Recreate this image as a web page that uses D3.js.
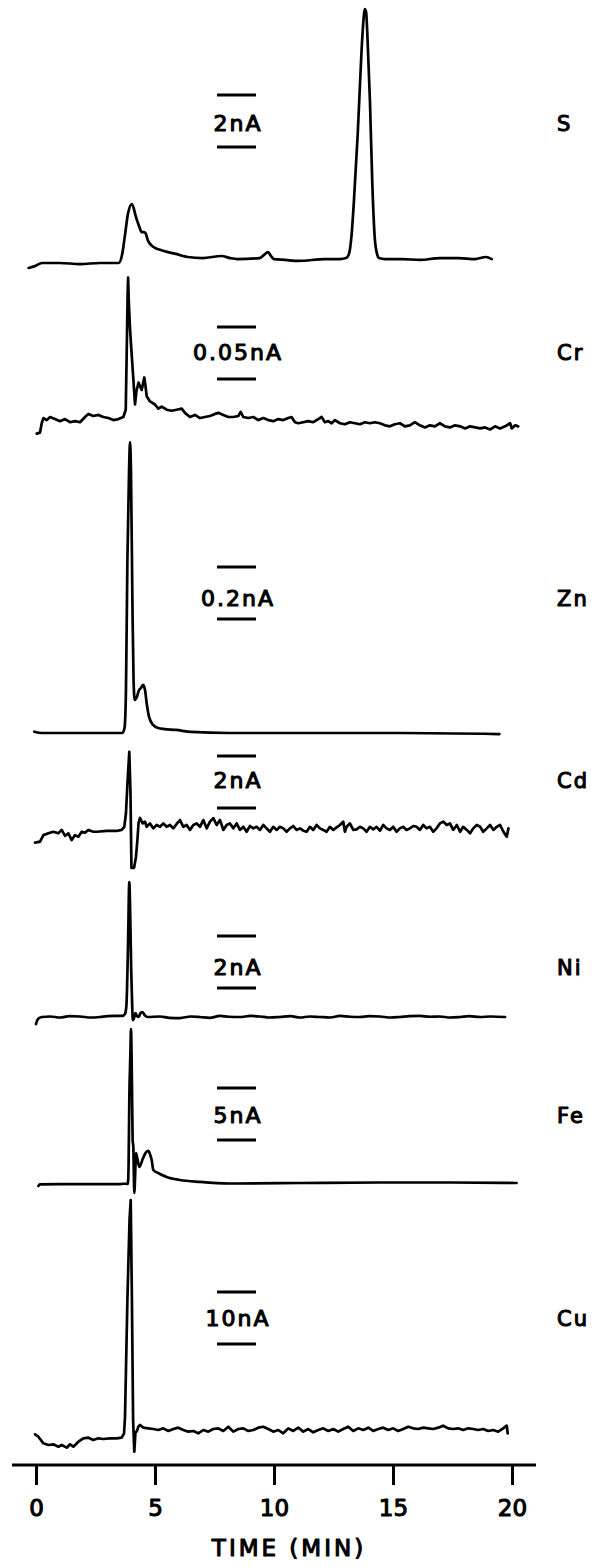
<!DOCTYPE html>
<html>
<head>
<meta charset="utf-8">
<script src="https://cdn.jsdelivr.net/npm/d3@7/dist/d3.min.js"></script>
<style>
  html, body { margin: 0; padding: 0; background: #fff; }
  svg { display: block; }
  text { font-family: "DejaVu Sans", sans-serif; fill: #000; stroke: #000; stroke-width: 1.1px; stroke-linejoin: round; }
</style>
</head>
<body>
<svg id="chart" width="600" height="1567"></svg>
<script>
// Element-selective detector traces: [time (min), current (nA) above baseline]
const timeTicks = [0, 5, 10, 15, 20];
const elements = ["S", "Cr", "Zn", "Cd", "Ni", "Fe", "Cu"];
const scaleLabels = ["2nA", "0.05nA", "0.2nA", "2nA", "2nA", "5nA", "10nA"];
const scaleValues = [2, 0.05, 0.2, 2, 2, 5, 10];

const traceS = [[-0.31,-0.19],[-0.04,-0.12],[0.25,0],[1.0,0],[1.85,-0.04],[2.69,0],[3.47,0],[3.63,0.38],[3.74,1.08],[3.87,1.92],[4.03,2.27],[4.2,1.77],[4.33,1.42],[4.44,1.19],[4.52,1.19],[4.6,1.15],[4.71,0.85],[4.84,0.69],[5.0,0.58],[5.24,0.5],[5.55,0.42],[5.88,0.35],[6.37,0.23],[7.0,0.19],[7.8,0.27],[8.15,0.19],[8.45,0.15],[9.4,0.19],[9.58,0.31],[9.75,0.42],[9.87,0.27],[10.0,0.15],[10.46,0.12],[11.03,0.08],[12.14,0.15],[12.77,0.15],[13.03,0.19],[13.15,0.35],[13.26,1.08],[13.36,2.42],[13.52,5.0],[13.68,8.19],[13.76,9.35],[13.81,9.77],[13.87,9.65],[13.92,8.85],[14.03,6.27],[14.13,3.08],[14.24,0.88],[14.33,0.35],[14.41,0.19],[14.66,0.15],[15.37,0.15],[16.13,0.12],[16.97,0.19],[17.77,0.19],[18.45,0.15],[18.9,0.23],[19.15,0.15]];

const traceCr = [[0.03,-0.016],[0.17,-0.015],[0.24,-0.006],[0.31,-0.001],[0.45,-0.003],[0.59,0.000],[0.8,-0.002],[1.01,-0.004],[1.22,-0.002],[1.43,-0.005],[1.64,-0.004],[1.85,-0.005],[2.06,0.000],[2.2,0.003],[2.41,0.001],[2.62,0.002],[2.83,0.000],[3.04,-0.001],[3.25,-0.003],[3.46,-0.002],[3.67,0.000],[3.77,0.007],[3.81,0.06],[3.85,0.118],[3.87,0.134],[3.9,0.11],[3.95,0.085],[4.0,0.067],[4.08,0.04],[4.16,0.012],[4.22,0.025],[4.31,0.033],[4.44,0.026],[4.55,0.038],[4.6,0.03],[4.65,0.02],[4.79,0.015],[5.0,0.012],[5.14,0.008],[5.28,0.01],[5.49,0.007],[5.7,0.006],[5.91,0.007],[6.12,0.008],[6.26,0.004],[6.47,0.000],[6.68,0.002],[6.89,-0.001],[7.1,0.000],[7.31,0.001],[7.52,0.003],[7.66,0.004],[7.87,0.002],[8.08,0.000],[8.29,0.000],[8.5,0.001],[8.6,0.005],[8.71,0.000],[8.92,-0.001],[9.13,0.000],[9.34,-0.003],[9.55,-0.001],[9.76,-0.003],[9.97,-0.004],[10.18,-0.002],[10.39,-0.003],[10.6,-0.001],[10.74,0.000],[10.88,-0.005],[11.02,-0.006],[11.23,-0.005],[11.44,-0.004],[11.65,-0.005],[11.86,-0.002],[12.0,0.000],[12.14,-0.005],[12.28,-0.004],[12.42,-0.006],[12.56,-0.003],[12.77,-0.006],[12.98,-0.007],[13.19,-0.005],[13.4,-0.006],[13.61,-0.007],[13.82,-0.005],[14.03,-0.006],[14.24,-0.005],[14.45,-0.006],[14.66,-0.008],[14.87,-0.009],[15.08,-0.007],[15.29,-0.006],[15.5,-0.009],[15.71,-0.008],[15.92,-0.005],[16.13,-0.008],[16.34,-0.010],[16.55,-0.008],[16.76,-0.009],[16.97,-0.006],[17.18,-0.009],[17.39,-0.010],[17.61,-0.008],[17.82,-0.009],[18.03,-0.011],[18.24,-0.009],[18.45,-0.010],[18.66,-0.011],[18.87,-0.010],[19.08,-0.012],[19.29,-0.009],[19.5,-0.011],[19.71,-0.009],[19.92,-0.006],[19.99,-0.011],[20.13,-0.008],[20.26,-0.009]];

const traceZn = [[-0.07,0.005],[0.25,0],[1.85,0],[3.63,0],[3.72,0.019],[3.78,0.165],[3.84,0.665],[3.91,1.01],[3.95,1.119],[3.99,1.01],[4.05,0.51],[4.1,0.2],[4.15,0.127],[4.22,0.135],[4.33,0.165],[4.41,0.173],[4.5,0.185],[4.58,0.165],[4.66,0.108],[4.75,0.062],[4.92,0.031],[5.13,0.019],[5.4,0.015],[5.88,0.012],[6.51,0.004],[8.13,0],[11.09,0],[15.29,0],[19.47,-0.004]];

const traceCd = [[-0.04,-0.41],[0.17,-0.37],[0.31,-0.12],[0.52,-0.05],[0.73,0.01],[0.94,-0.05],[1.08,0.08],[1.22,-0.15],[1.36,-0.05],[1.5,-0.31],[1.64,-0.12],[1.78,-0.18],[1.92,0.01],[2.06,-0.03],[2.2,0.08],[2.41,0.01],[2.55,0.01],[2.97,0.04],[3.39,0.04],[3.6,0.08],[3.71,0.2],[3.78,0.72],[3.85,2.0],[3.92,3.08],[3.97,1.5],[4.01,-1.38],[4.12,-1.38],[4.2,-0.96],[4.26,-0.31],[4.31,0.35],[4.37,0.54],[4.48,0.33],[4.58,0.4],[4.65,0.2],[4.79,0.33],[4.93,0.14],[5.07,0.27],[5.21,0.2],[5.35,0.33],[5.49,0.2],[5.63,0.27],[5.77,0.14],[5.91,0.31],[6.05,0.46],[6.19,0.2],[6.33,0.27],[6.47,0.08],[6.61,0.27],[6.75,0.33],[6.89,0.2],[7.03,0.46],[7.17,0.14],[7.31,0.4],[7.45,0.53],[7.59,0.27],[7.73,0.46],[7.87,0.08],[8.01,0.27],[8.15,0.33],[8.29,0.14],[8.43,0.33],[8.57,0.08],[8.71,0.2],[8.85,0.01],[8.99,0.23],[9.13,0.14],[9.27,0.2],[9.41,0.08],[9.55,0.27],[9.69,0.14],[9.83,0.01],[9.97,0.2],[10.11,0.08],[10.25,0.2],[10.39,0.14],[10.53,0.01],[10.67,0.14],[10.81,0.23],[10.95,0.08],[11.09,0.14],[11.23,0.05],[11.37,0.01],[11.51,0.2],[11.65,0.08],[11.79,0.27],[11.93,0.14],[12.07,0.08],[12.21,0.01],[12.35,0.2],[12.49,0.08],[12.63,0.18],[12.77,0.27],[12.91,0.4],[12.98,0.01],[13.05,0.2],[13.19,0.33],[13.33,0.08],[13.47,0.1],[13.61,0.2],[13.75,0.14],[13.89,0.01],[14.03,0.2],[14.17,0.1],[14.31,0.2],[14.45,0.05],[14.59,0.27],[14.73,0.14],[14.87,0.08],[15.01,0.2],[15.15,0.01],[15.29,0.14],[15.43,0.2],[15.57,0.08],[15.71,0.14],[15.85,0.23],[15.99,0.2],[16.13,0.08],[16.27,0.27],[16.41,0.14],[16.55,0.2],[16.69,0.01],[16.83,0.14],[16.97,0.33],[17.11,0.4],[17.26,0.27],[17.39,0.33],[17.53,0.08],[17.68,0.27],[17.82,0.01],[17.95,0.2],[18.1,0.08],[18.24,-0.05],[18.37,0.14],[18.52,0.27],[18.66,0.2],[18.79,0.01],[18.94,0.14],[19.08,0.27],[19.22,0.08],[19.36,0.2],[19.5,0.27],[19.64,0.01],[19.78,-0.18],[19.85,0.14]];

const traceNi = [[0,-0.27],[0.08,-0.08],[0.25,0],[0.6,0.02],[1.01,-0.02],[1.4,0.03],[1.85,0.02],[2.3,-0.02],[2.69,0],[3.0,0.03],[3.32,0.04],[3.63,0.04],[3.74,0.12],[3.8,0.46],[3.87,2.96],[3.92,5.19],[3.97,3.35],[4.0,1.81],[4.04,0.46],[4.07,-0.12],[4.12,-0.04],[4.18,0.15],[4.24,0.04],[4.31,0],[4.39,0.15],[4.47,0.19],[4.56,0.08],[4.68,0],[5.21,0.02],[5.6,-0.03],[6.05,-0.04],[6.5,0.02],[6.89,0],[7.3,-0.03],[7.73,0.04],[8.1,0.01],[8.57,0],[9.0,0.04],[9.41,0.02],[9.8,-0.02],[10.25,0],[10.7,0.03],[11.09,-0.02],[11.5,0.02],[11.93,0],[12.35,-0.02],[12.77,0.04],[13.2,0.01],[13.61,0],[14.0,0.03],[14.45,0.02],[14.9,-0.02],[15.29,0],[15.7,0.03],[16.13,0.04],[16.55,0.01],[16.97,0.02],[17.4,-0.02],[17.82,0],[18.2,0.03],[18.66,0],[19.1,0.02],[19.71,0]];

const traceFe = [[0.1,-0.29],[0.17,-0.14],[1.01,-0.1],[2.69,-0.1],[3.53,-0.1],[3.82,-0.05],[3.86,-0.1],[3.89,1.73],[3.92,7.98],[3.97,12.79],[3.99,14.81],[4.03,9.9],[4.06,4.13],[4.09,3.46],[4.13,-0.96],[4.18,1.73],[4.2,2.88],[4.27,2.2],[4.34,1.54],[4.5,2.4],[4.62,2.95],[4.72,3.08],[4.8,2.7],[4.86,2.21],[4.93,1.25],[5.21,0.87],[5.49,0.58],[6.05,0.29],[6.89,0.1],[8.13,-0.05],[11.09,0],[14.45,0.05],[17.39,0.05],[20.19,0]];

const traceCu = [[-0.04,-0.83],[0.1,-1.29],[0.31,-2.56],[0.52,-2.88],[0.73,-2.75],[0.94,-3.21],[1.08,-2.88],[1.29,-3.4],[1.43,-2.75],[1.57,-3.21],[1.78,-2.25],[1.99,-1.6],[2.2,-1.48],[2.41,-1.92],[2.62,-1.6],[2.83,-1.73],[3.11,-1.6],[3.39,-1.6],[3.6,-1.48],[3.7,-0.63],[3.74,2.5],[3.84,25],[3.93,40.4],[3.98,44.2],[4.03,25],[4.08,1.92],[4.13,-4.17],[4.18,-0.38],[4.23,-0.32],[4.3,0.63],[4.37,0.96],[4.51,0.45],[4.72,0.32],[4.93,0.19],[5.14,0],[5.35,0.32],[5.56,-0.19],[5.77,0.19],[5.98,0.45],[6.19,0],[6.4,-0.32],[6.61,-0.19],[6.82,-0.64],[7.03,0],[7.24,-0.32],[7.45,0.19],[7.66,0.32],[7.87,-0.19],[8.08,0.63],[8.29,-0.32],[8.5,0.19],[8.71,0.32],[8.92,-0.19],[9.13,0],[9.34,0.45],[9.55,0.63],[9.76,0.19],[9.97,-0.32],[10.18,0],[10.39,-0.64],[10.6,0.32],[10.81,-0.19],[11.02,0.45],[11.23,-0.32],[11.44,0.19],[11.65,-0.45],[11.86,0],[12.07,0.32],[12.28,-0.19],[12.49,0.19],[12.7,-0.32],[12.91,0.19],[13.12,0.63],[13.33,-0.19],[13.54,0.32],[13.75,0],[13.96,0.45],[14.17,-0.19],[14.38,0.19],[14.59,0.45],[14.8,0],[15.01,0.32],[15.22,-0.19],[15.43,0.19],[15.64,0.63],[15.85,0.32],[16.06,0.19],[16.27,0.45],[16.48,0.32],[16.69,0.19],[16.9,0.45],[17.11,0.83],[17.32,0.32],[17.53,0.19],[17.74,0.32],[17.95,0],[18.16,0.32],[18.37,0.19],[18.58,0],[18.79,0.19],[19.0,-0.19],[19.21,0],[19.42,-0.32],[19.63,0.32],[19.78,0.83],[19.82,-0.64]];

const traces = [traceS, traceCr, traceZn, traceCd, traceNi, traceFe, traceCu];

// Page layout for each stacked trace (pixels)
const layout = {
  S:  { base: 263,  bar: 121,  label: 123,  noisy: false },
  Cr: { base: 417,  bar: 353,  label: 352,  noisy: true },
  Zn: { base: 733,  bar: 593,  label: 598,  noisy: false },
  Cd: { base: 832,  bar: 782,  label: 780,  noisy: true },
  Ni: { base: 1017, bar: 962,  label: 967,  noisy: false },
  Fe: { base: 1183, bar: 1114, label: 1115, noisy: false },
  Cu: { base: 1430, bar: 1318, label: 1318, noisy: true }
};
const barSpan = 52;      // scale bar spacing in px
const axisY = 1465;

const svg = d3.select("#chart");
const x = d3.scaleLinear().domain([0, 20]).range([36, 512]);

elements.forEach((el, i) => {
  const L = layout[el];
  const y = d3.scaleLinear().domain([0, scaleValues[i]]).range([L.base, L.base - barSpan]);
  const line = d3.line()
    .x(d => x(d[0]))
    .y(d => y(d[1]))
    .curve(L.noisy ? d3.curveLinear : d3.curveMonotoneX);

  const g = svg.append("g").attr("class", "trace-" + el);
  g.append("path")
    .datum(traces[i])
    .attr("d", line)
    .attr("fill", "none")
    .attr("stroke", "#000")
    .attr("stroke-width", 2.7)
    .attr("stroke-linejoin", "round")
    .attr("stroke-linecap", "round");

  // scale bar: the gap between the two dashes equals the labelled current
  const gap = y(0) - y(scaleValues[i]);
  [L.bar - gap / 2, L.bar + gap / 2].forEach(yy => {
    g.append("line")
      .attr("x1", 217).attr("x2", 256)
      .attr("y1", yy).attr("y2", yy)
      .attr("stroke", "#000").attr("stroke-width", 3);
  });
  g.append("text")
    .attr("x", 238).attr("y", L.label + 8)
    .attr("text-anchor", "middle")
    .attr("font-size", 22)
    .attr("letter-spacing", 2)
    .text(scaleLabels[i]);

  g.append("text")
    .attr("x", 557).attr("y", L.label + 7.5)
    .attr("font-size", 21)
    .attr("letter-spacing", 2)
    .text(el);
});

// time axis
const axis = svg.append("g")
  .attr("transform", `translate(0,${axisY})`)
  .call(d3.axisBottom(x).tickValues(timeTicks).tickSize(20).tickPadding(15).tickFormat(d3.format("d")));
axis.select(".domain").remove();
axis.selectAll(".tick line").attr("stroke", "#000").attr("stroke-width", 3);
axis.selectAll(".tick text")
  .attr("font-family", null)
  .attr("font-size", 23)
  .attr("fill", "#000");
axis.append("line")
  .attr("x1", 12).attr("x2", 536)
  .attr("y1", 0).attr("y2", 0)
  .attr("stroke", "#000").attr("stroke-width", 3);
axis.attr("font-family", null).attr("font-size", null);

svg.append("text")
  .attr("x", 289).attr("y", 1555.5)
  .attr("text-anchor", "middle")
  .attr("font-size", 23)
  .attr("letter-spacing", 3)
  .text("TIME (MIN)");
</script>
</body>
</html>
